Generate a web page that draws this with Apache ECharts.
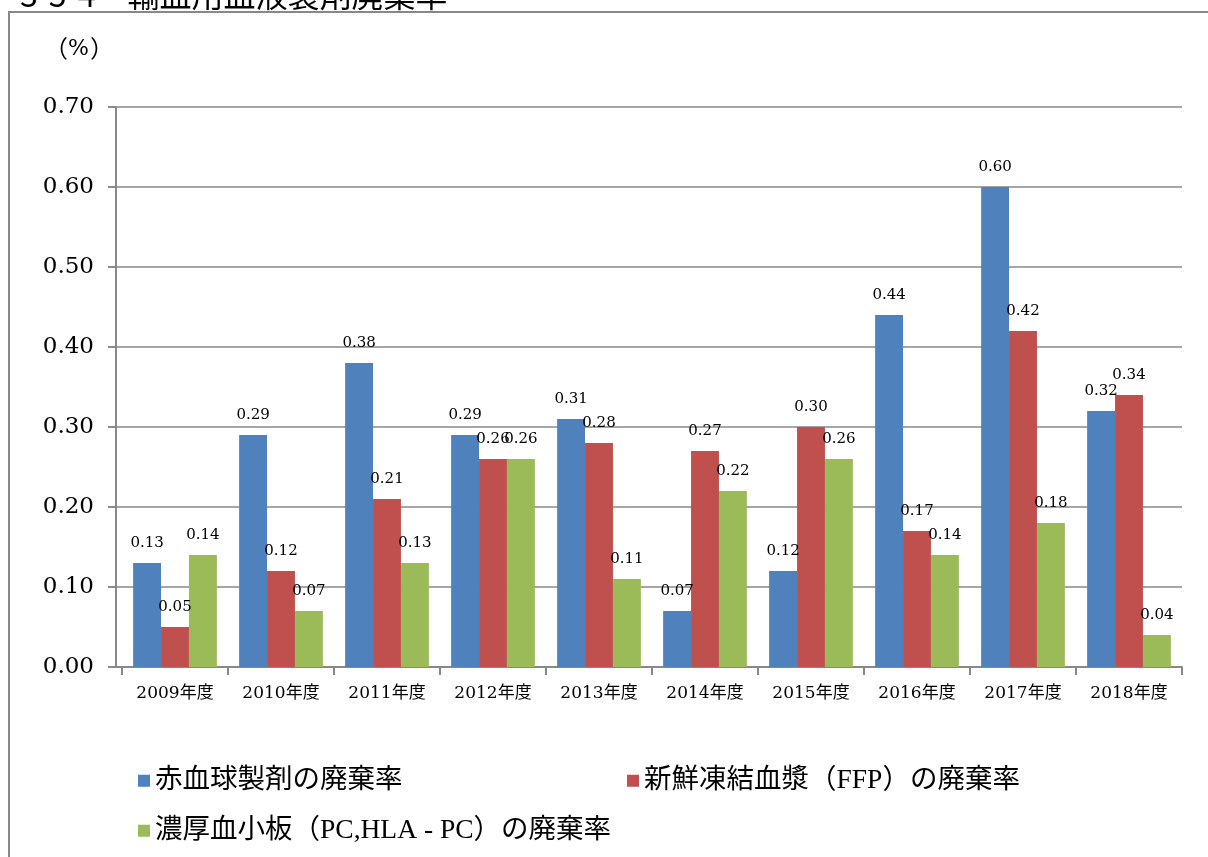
<!DOCTYPE html>
<html><head><meta charset="utf-8">
<script src="https://cdn.jsdelivr.net/npm/echarts@6/dist/echarts.min.js"></script>
<style>html,body{margin:0;padding:0;background:#fff}#c{width:1208px;height:857px}</style>
</head><body><div id="c"></div>
<script>
const categories = ['2009年度','2010年度','2011年度','2012年度','2013年度','2014年度','2015年度','2016年度','2017年度','2018年度'];
const seriesNames = ['赤血球製剤の廃棄率','新鮮凍結血漿（FFP）の廃棄率','濃厚血小板（PC,HLA - PC）の廃棄率'];
const redCell = [0.13,0.29,0.38,0.29,0.31,0.07,0.12,0.44,0.60,0.32];
const ffp = [0.05,0.12,0.21,0.26,0.28,0.27,0.30,0.17,0.42,0.34];
const platelet = [0.14,0.07,0.13,0.26,0.11,0.22,0.26,0.14,0.18,0.04];
const colors = ['#4F81BD','#C0504D','#9BBB59'];
const serif = '"DejaVu Serif","Noto Sans CJK JP",serif';
const lserif = '"Liberation Serif","Noto Sans CJK JP",serif';

const chart = echarts.init(document.getElementById('c'));
function mk(name, data, color){
  return {
    name, type:'bar', data, xAxisIndex:1, yAxisIndex:1, barGap:'0%', barCategoryGap:'21%',
    itemStyle:{color},
    label:{show:true, position:'top', distance:12, fontFamily:serif, fontSize:15, color:'#000',
      formatter:p=>p.value.toFixed(2)}
  };
}
const legendCommon = {icon:'rect', itemWidth:12, itemHeight:12, itemGap:8,
  textStyle:{fontFamily:lserif, fontSize:27.5, color:'#000'}, selectedMode:false};
chart.setOption({
  animation:false,
  grid:[{left:116, right:26, top:107, bottom:190},{left:122, right:26, top:107, bottom:190}],
  graphic:[
    {type:'rect', shape:{x:9, y:12, width:1300, height:900}, style:{fill:'none', stroke:'#888', lineWidth:2}, silent:true},
    {type:'text', left:20, top:-21, style:{text:'3-5-4　輸血用血液製剤廃棄率', fontSize:32, fontFamily:'Noto Sans CJK JP', fill:'#000'}},
    {type:'text', left:44, top:36, style:{text:'（', fontSize:24, fontFamily:'Noto Sans CJK JP', fill:'#000'}},
    {type:'text', left:68, top:38, style:{text:'%', fontSize:22, fontFamily:'DejaVu Serif', fill:'#000'}},
    {type:'text', left:90, top:36, style:{text:'）', fontSize:24, fontFamily:'Noto Sans CJK JP', fill:'#000'}}
  ],
  legend:[
    Object.assign({data:[seriesNames[0]], left:133, top:762}, legendCommon),
    Object.assign({data:[seriesNames[1]], left:622, top:762}, legendCommon),
    Object.assign({data:[seriesNames[2]], left:133, top:812}, legendCommon)
  ],
  xAxis:[
    {gridIndex:0, type:'value', min:0, max:1, axisLine:{show:true, onZero:false, lineStyle:{color:'#888', width:2}},
      axisTick:{show:false}, axisLabel:{show:false}, splitLine:{show:false}},
    {gridIndex:1, type:'category', data:categories, boundaryGap:true,
      axisLine:{show:false},
      axisTick:{show:true, length:8, lineStyle:{color:'#888', width:2}},
      axisLabel:{fontFamily:serif, fontSize:17, color:'#000', margin:18}}
  ],
  yAxis:[
    {gridIndex:0, type:'value', min:0, max:0.7, interval:0.1,
      axisLine:{show:true, lineStyle:{color:'#888', width:2}},
      axisTick:{show:true, length:8, lineStyle:{color:'#888', width:2}},
      axisLabel:{fontFamily:serif, fontSize:23, color:'#000', margin:22, formatter:v=>v.toFixed(2)},
      splitLine:{lineStyle:{color:'#888', width:1.5}}},
    {gridIndex:1, type:'value', min:0, max:0.7, interval:0.1, show:false}
  ],
  series:[mk(seriesNames[0], redCell, colors[0]), mk(seriesNames[1], ffp, colors[1]), mk(seriesNames[2], platelet, colors[2])]
});
</script></body></html>
